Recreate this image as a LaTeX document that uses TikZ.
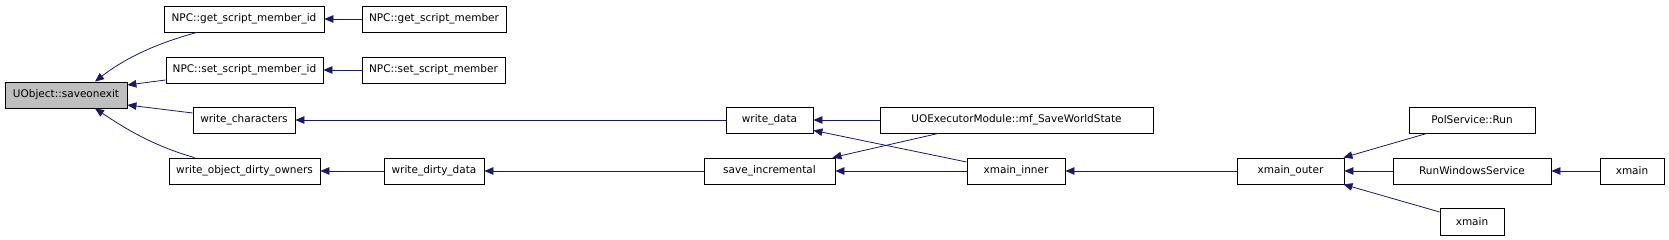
\documentclass[tikz,border=0pt]{standalone}
\usepackage{fontspec}
\setmainfont{DejaVu Sans}
\usepackage{xcolor}
\usetikzlibrary{arrows.meta,positioning}
\definecolor{edgeblue}{RGB}{25, 25, 112}
\definecolor{focusgray}{RGB}{191, 191, 191}

\begin{document}
\begin{tikzpicture}[
    x=1pt, y=-1pt,
    fn/.style={draw=black, line width=0.8pt, fill=white, font=\fontsize{10.5}{12}\selectfont, minimum height=26pt, inner sep=0pt},
    focus/.style={fn, fill=focusgray},
    call/.style={-{Triangle[length=9pt, width=7.5pt]}, line width=0.8pt, draw=edgeblue}
]
\useasboundingbox[fill=white] (0,0) rectangle (1669,240);

% Nodes
\node (soe) [focus, minimum width=122pt] at (66,95) {UObject::saveonexit};

\node (gsmid) [fn, minimum width=160pt] at (244,19) {NPC::get\_script\_member\_id};
\node (ssmid) [fn, minimum width=157pt] at (244.5,70) {NPC::set\_script\_member\_id};
\node (wchar) [fn, minimum width=102pt] at (244,120) {write\_characters};
\node (wodo) [fn, minimum width=151pt] at (244.5,171) {write\_object\_dirty\_owners};

\node (gsm) [fn, minimum width=144pt] at (434,19) {NPC::get\_script\_member};
\node (ssm) [fn, minimum width=143pt] at (433.5,70) {NPC::set\_script\_member};
\node (wdd) [fn, minimum width=100pt] at (434,171) {write\_dirty\_data};

\node (wdata) [fn, minimum width=87pt] at (769.5,120) {write\_data};
\node (saveinc) [fn, minimum width=131pt] at (769.5,171) {save\_incremental};

\node (mfsws) [fn, minimum width=273pt] at (1016.5,120) {UOExecutorModule::mf\_SaveWorldState};
\node (xinner) [fn, minimum width=98pt] at (1016,171) {xmain\_inner};

\node (xouter) [fn, minimum width=107pt] at (1290.5,171) {xmain\_outer};

\node (polrun) [fn, minimum width=126pt] at (1472,120) {PolService::Run};
\node (rws) [fn, minimum width=158pt] at (1472,171) {RunWindowsService};
\node (xmainb) [fn, minimum width=64pt, minimum height=27pt] at (1472,221.5) {xmain};

\node (xmaina) [fn, minimum width=64pt] at (1632,171) {xmain};

% Connectors
\draw [call] ([xshift=-47pt]gsmid.south) .. controls (150,45) and (120,62) .. ([xshift=29pt]soe.north);
\draw [call] ([yshift=-10pt]ssmid.west) -- ([yshift=10pt]soe.east);
\draw [call] ([yshift=7pt]wchar.west) -- ([yshift=-10pt]soe.east);
\draw [call] ([xshift=-50pt]wodo.north) .. controls (150,145) and (120,125) .. ([xshift=29pt]soe.south);

\draw [call] (gsm) -- (gsmid);
\draw [call] (ssm) -- (ssmid);
\draw [call] (wdata) -- (wchar);
\draw [call] (wdd) -- (wodo);
\draw [call] (saveinc) -- (wdd);
\draw [call] (mfsws) -- (wdata);
\draw [call] (xinner) -- (saveinc);
\draw [call] (xouter) -- (xinner);
\draw [call] (rws) -- (xouter);
\draw [call] (xmaina) -- (rws);

\draw [call] ([xshift=-78pt]mfsws.south) -- ([xshift=-3pt]saveinc.north east);
\draw [call] ([yshift=9pt]xinner.west) -- ([yshift=3pt]wdata.south east);
\draw [call] ([xshift=-45pt]polrun.south) -- ([xshift=-1pt]xouter.north east);
\draw [call] ([yshift=9.5pt]xmainb.west) -- ([xshift=-1pt]xouter.south east);

\end{tikzpicture}
\end{document}
